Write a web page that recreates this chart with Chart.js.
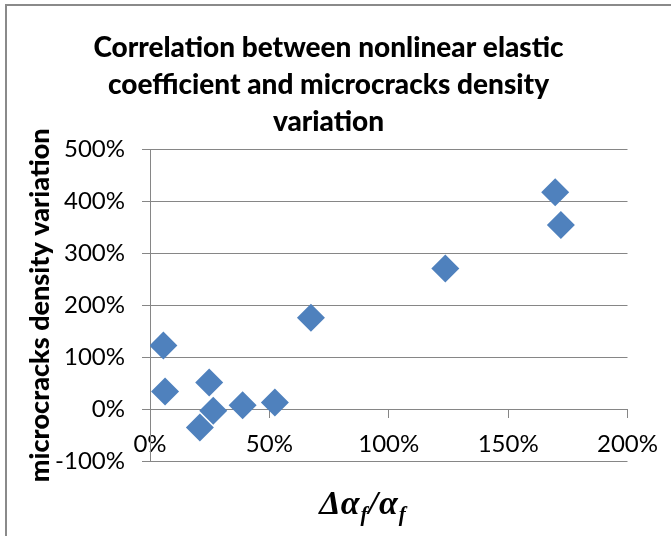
<!DOCTYPE html>
<html>
<head>
<meta charset="utf-8">
<script src="https://cdn.jsdelivr.net/npm/chart.js@4"></script>
<style>
  html, body { margin: 0; padding: 0; background: #fff; }
  #wrap { width: 671px; height: 536px; }
</style>
</head>
<body>
<div id="wrap"><canvas id="myChart" width="671" height="536"></canvas></div>
<script>
// values (fractions, shown as %)
const alphaVariation = [0.056, 0.063, 0.248, 0.265, 0.209, 0.388, 0.523, 0.674, 1.237, 1.697, 1.721];
const densityVariation = [1.225, 0.34, 0.515, -0.033, -0.356, 0.077, 0.128, 1.76, 2.71, 4.18, 3.55];
const titleLines = ['Correlation between nonlinear elastic', 'coefficient and microcracks density', 'variation'];
const yTitle = 'microcracks density variation';

const gridColor = '#868686';
const pointColor = '#4F81BD';

const points = alphaVariation.map(function (x, i) {
    return { x: x, y: densityVariation[i] };
});

function pct(v) {
    return Math.round(v * 100) + '%';
}

// outer frame and the x axis title (delta alpha_f / alpha_f)
const decor = {
    id: 'decor',
    afterDraw: function (chart) {
        const ctx = chart.ctx;
        ctx.save();
        ctx.strokeStyle = '#8a8a8a';
        ctx.lineWidth = 2;
        ctx.strokeRect(6, 5, 800, 800);

        const big = 'bold italic 34px "Liberation Serif"';
        const small = 'bold italic 21px "Liberation Serif"';
        const parts = [
            { t: '\u0394\u03B1', f: big, dy: 0 },
            { t: 'f', f: small, dy: 7 },
            { t: '/', f: big, dy: 0 },
            { t: '\u03B1', f: big, dy: 0 },
            { t: 'f', f: small, dy: 7 }
        ];
        let total = 0;
        parts.forEach(p => {
            ctx.font = p.f;
            p.w = ctx.measureText(p.t).width + 1;
            total += p.w;
        });
        let x = 363 - total / 2;
        const base = chart.chartArea.bottom + 53;
        ctx.fillStyle = '#000';
        ctx.textBaseline = 'alphabetic';
        parts.forEach(p => {
            ctx.font = p.f;
            ctx.fillText(p.t, x, base + p.dy);
            x += p.w;
        });
        ctx.restore();
    }
};

const ctx = document.getElementById('myChart').getContext('2d');
const myChart = new Chart(ctx, {
    type: 'scatter',
    data: {
        datasets: [{
            label: 'data',
            data: points,
            pointStyle: 'rectRot',
            pointRadius: 14,
            pointHoverRadius: 14,
            backgroundColor: pointColor,
            borderColor: pointColor,
            borderWidth: 0
        }]
    },
    options: {
        responsive: false,
        animation: false,
        layout: {
            padding: { left: 0, right: 14, top: 0, bottom: 75 }
        },
        plugins: {
            legend: { display: false },
            tooltip: { enabled: false },
            title: {
                display: true,
                text: titleLines,
                color: '#000',
                font: { family: 'Lato', size: 28, weight: '900', lineHeight: 1.33 },
                padding: { top: 29, bottom: 9 }
            }
        },
        scales: {
            x: {
                type: 'linear',
                position: { y: 0 },
                min: 0,
                max: 2,
                ticks: {
                    stepSize: 0.5,
                    callback: pct,
                    color: '#000',
                    padding: 13,
                    maxRotation: 0,
                    font: { family: 'Lato', size: 24 }
                },
                grid: {
                    drawOnChartArea: false,
                    drawTicks: true,
                    tickLength: 8,
                    color: gridColor,
                    lineWidth: 1
                },
                border: { display: true, color: gridColor, width: 1 }
            },
            y: {
                type: 'linear',
                min: -1,
                max: 5,
                ticks: {
                    stepSize: 1,
                    callback: pct,
                    color: '#000',
                    padding: 17,
                    font: { family: 'Lato', size: 24 }
                },
                grid: {
                    color: gridColor,
                    lineWidth: 1,
                    tickLength: 8
                },
                border: { display: true, color: gridColor, width: 1 },
                title: {
                    display: true,
                    text: yTitle,
                    color: '#000',
                    font: { family: 'Lato', size: 27, weight: '900' },
                    padding: { top: 24, bottom: 0 }
                },
                afterFit: function (scale) {
                    scale.width = 150;
                }
            }
        }
    },
    plugins: [decor]
});
</script>
</body>
</html>
